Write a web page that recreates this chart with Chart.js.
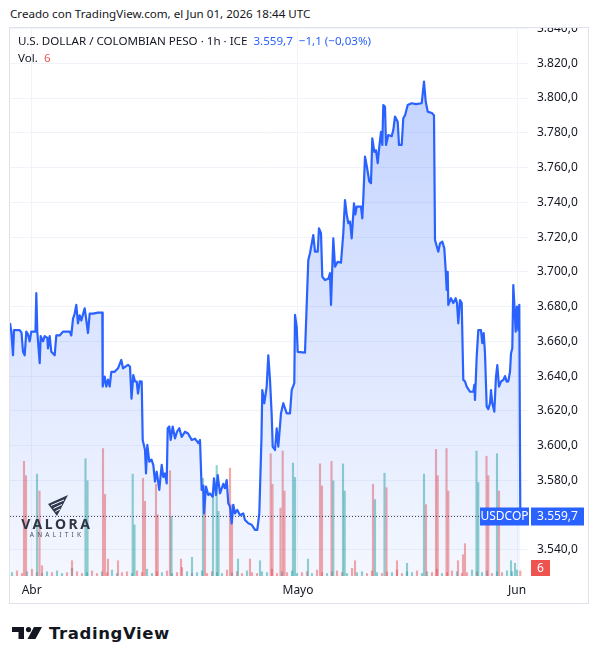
<!DOCTYPE html>
<html>
<head>
<meta charset="utf-8">
<script src="https://cdn.jsdelivr.net/npm/chart.js@4.4.1/dist/chart.umd.min.js"></script>
<style>
  body { margin: 0; background: #fff; width: 598px; height: 664px; position: relative; overflow: hidden;
         font-family: "Noto Sans", Roboto, sans-serif; color: #131722; }
  #created { position: absolute; left: 10px; top: 5px; font-size: 11.6px; line-height: 18px; }
  #pane { position: absolute; left: 10px; top: 28px; width: 578px; height: 575px; }
  #frame { position: absolute; left: 9px; top: 27px; width: 580px; height: 577px; border: 1px solid #e0e3eb;
           box-sizing: border-box; pointer-events: none; }
  #c { position: absolute; left: 0; top: 0; }
  .leg { position: absolute; left: 8px; font-size: 11.6px; line-height: 16px; white-space: nowrap; }
  .blue { color: #2962ff; }
  .red { color: #ef5350; }
  #valora { position: absolute; left: 11px; top: 467px; width: 72px; text-align: center; color: #2f3542; }
  #valora .name { font-weight: 700; font-size: 14px; letter-spacing: 2.6px; line-height: 14px; margin-top: 1px; }
  #valora .sub { font-size: 6.5px; letter-spacing: 3.2px; line-height: 8px; color: #4a4f5a; }
  #tv { position: absolute; left: 12px; top: 622px; height: 22px; display: flex; align-items: center; }
  #tv span { font-family: "DejaVu Sans", sans-serif; font-weight: 700; font-size: 16.5px; letter-spacing: 0.6px;
             margin-left: 7px; color: #131722; }
</style>
</head>
<body>
<div id="created">Creado con TradingView.com, el Jun 01, 2026 18:44 UTC</div>
<div id="pane">
  <canvas id="c" width="578" height="575" style="width:578px;height:575px"></canvas>
  <div class="leg" style="top:5px">U.S. DOLLAR / COLOMBIAN PESO · 1h · ICE&nbsp; <span class="blue">3.559,7</span>&nbsp; <span class="blue">−1,1 (−0,03%)</span></div>
  <div class="leg" style="top:22px">Vol.&nbsp; <span class="red">6</span></div>
  <div id="valora">
    <svg width="20" height="21" viewBox="0 0 20 21" style="display:block;margin:0 auto 1px 27px">
      <polygon points="0,9 20,0 9,21" fill="#2f3a50"/>
      <line x1="3" y1="10.5" x2="16" y2="5" stroke="#fff" stroke-width="1"/>
      <line x1="5.5" y1="13.5" x2="14" y2="9.5" stroke="#fff" stroke-width="1"/>
      <line x1="7.5" y1="16.5" x2="12" y2="14" stroke="#fff" stroke-width="1"/>
    </svg>
    <div class="name">VALORA</div>
    <div class="sub">ANALITIK</div>
  </div>
</div>
<div id="frame"></div>
<div id="tv">
  <svg width="30" height="12" viewBox="0 0 30 12">
    <path d="M0 0 H12 V12 H6.5 V5 H0 Z" fill="#131722"/>
    <circle cx="16.5" cy="2.6" r="2.6" fill="#131722"/>
    <path d="M22 0 H30 L23.5 12 H15.5 Z" fill="#131722"/>
  </svg>
  <span>TradingView</span>
</div>
<script>
// hourly closes, time in bars from left edge of the view
const hours = [
  0, 1.3, 3, 4, 9.7, 11.5, 13, 14.7, 16.3, 18,
  19.7, 21.3, 25.5, 26.3, 27.3, 29.7, 30.7, 33, 34.7, 37.3,
  38, 39.7, 41.3, 44.7, 46.3, 49.7, 53, 59.7, 61.3, 63,
  64.7, 66.3, 68, 69.7, 71.3, 74.7, 76.3, 78, 79.7, 83,
  88, 92.3, 92.7, 94.7, 96.3, 98, 99.7, 101.3, 104.7, 108,
  111.3, 113, 118, 120, 121.5, 123.3, 125, 126.7, 128, 129.7,
  131.7, 132.7, 135, 136, 137.3, 139.3, 141.5, 143.3, 145, 146.7,
  149.3, 151.7, 153.3, 155, 156.7, 157.7, 159.3, 160.7, 162.7, 165,
  167, 169.3, 171.7, 175, 178, 181.7, 185, 188.3, 190, 191.7,
  193.3, 194, 196, 198.3, 200, 202.7, 204, 206, 207.7, 210,
  213.3, 215, 216.7, 218.3, 220, 221.7, 223.3, 225, 227.3, 230,
  233.3, 235, 238.3, 241.7, 245, 247.3, 249.3, 251.5, 252.3, 254.3,
  256.7, 258.3, 260, 261.7, 262.7, 265, 266.7, 268.3, 271, 273.3,
  276.7, 280, 281.7, 284.3, 285, 286.7, 287.7, 295, 298.3, 300,
  303.3, 305, 307.7, 309, 311, 312.3, 315, 318.3, 320, 321,
  323.3, 325, 327.7, 331, 333.3, 335, 336.7, 338.3, 340, 341.7,
  344, 345.3, 346.7, 351, 352.3, 353.3, 355, 357, 359.3, 361,
  362.3, 364.3, 366, 367.7, 369.3, 371, 372.3, 373.3, 375, 376,
  378.3, 381.7, 383.3, 385, 387.7, 389, 391.7, 393.3, 395, 397.7,
  401.7, 406, 411.7, 414, 415.7, 417.7, 422.3, 424, 425, 428.3,
  430, 432.3, 434.3, 435.7, 436.7, 437.7, 438.3, 441, 443.3, 445.7,
  447, 448.3, 450, 451.7, 453.3, 455, 456.7, 460, 463.3, 464.3,
  465, 466.7, 468.3, 471, 472.3, 473.7, 475, 476.7, 478.3, 480,
  481, 482.3, 484.3, 486, 487.3, 489, 491, 493.3, 495, 496.7,
  498.3, 500, 501, 502.3, 503.3, 504.3, 505.7, 507, 508.3, 509.3,
  510.3
];
const closes = [
  3670.6, 3665.6, 3652, 3666.5, 3666.5, 3665, 3654, 3652, 3665.6, 3664,
  3660, 3665.6, 3665.6, 3687.7, 3665.6, 3647.4, 3663, 3660, 3663, 3662,
  3656, 3663, 3654, 3652, 3663.4, 3663.4, 3665.6, 3665.6, 3663.4, 3673,
  3676, 3681, 3670.4, 3675, 3672, 3679, 3672.3, 3664.8, 3676, 3676,
  3676.5, 3676.5, 3634, 3639.7, 3634, 3638, 3634, 3642.5, 3642.5, 3644.5,
  3649.3, 3644.5, 3646.5, 3645.4, 3627, 3640.6, 3637, 3636.8, 3630, 3637,
  3636.8, 3603.3, 3597.5, 3584, 3600.4, 3590.8, 3592, 3588.9, 3579.3, 3585,
  3574.5, 3588.9, 3582, 3584, 3578.3, 3610, 3611, 3603.3, 3611, 3604.2,
  3608, 3610, 3605, 3608, 3607, 3603.3, 3604, 3601.4, 3603.3, 3574.5,
  3577, 3561, 3576.4, 3571.6, 3572.5, 3570.6, 3581.2, 3571.6, 3583, 3572.6,
  3578, 3575.5, 3580.2, 3566.8, 3565, 3555.3, 3566, 3561, 3563, 3560,
  3561, 3557.2, 3555.3, 3554.5, 3551.5, 3551.5, 3561, 3605, 3632, 3624.4,
  3634, 3652, 3637.8, 3617.6, 3599.4, 3597.5, 3610, 3599.4, 3618.6, 3624.4,
  3618.6, 3618.6, 3632, 3636, 3675.2, 3668.5, 3654, 3653.5, 3706.8, 3710.7,
  3721.2, 3711.6, 3711.6, 3725, 3722.2, 3697.2, 3695.3, 3696, 3699.2, 3681,
  3719.3, 3703, 3705.8, 3705.3, 3722.2, 3741.3, 3733, 3728, 3729, 3719.3,
  3739.4, 3733, 3737.5, 3737.5, 3730.8, 3742.3, 3766.3, 3760, 3752, 3751,
  3776.8, 3769, 3770, 3762.5, 3772, 3780.6, 3773, 3796, 3795, 3773,
  3778.7, 3778, 3781.6, 3789.3, 3786.4, 3773, 3773, 3788.4, 3790, 3796,
  3797, 3796.5, 3797, 3809.4, 3798, 3792.2, 3791.2, 3790, 3718.3, 3711.6,
  3716.4, 3717.4, 3713.5, 3701, 3689.6, 3700, 3681, 3684.8, 3682, 3684.8,
  3682, 3670.4, 3683.8, 3682, 3637.8, 3637, 3634, 3631, 3631, 3635,
  3626.3, 3651.2, 3666.5, 3666.5, 3659, 3664.7, 3653, 3622.4, 3621, 3624.4,
  3632, 3624.4, 3619.6, 3639.7, 3646.4, 3634, 3636.8, 3637.8, 3640, 3636.8,
  3637, 3642.5, 3653, 3656, 3692.4, 3682, 3665.6, 3680, 3666.5, 3681,
  3559.7
];

// volume spikes (session opens) and the low background volume
const spikeHours = [14, 16, 27, 29.5, 32, 62, 75.5, 77.5, 93, 95, 98, 108, 122.7, 124.5, 133, 135,
  146, 147.7, 160, 161.5, 171, 182, 193, 195, 203, 206.7, 208.5, 220, 222, 228, 240, 250,
  260.7, 262.5, 270.5, 272.7, 274.5, 283, 285, 298, 310, 312, 321.5, 323.3, 333, 334.7, 345,
  363, 365, 374.5, 376.5, 387, 397, 414, 416, 426, 427.7, 436.5, 438.3, 448, 453, 455,
  466.5, 468.3, 476.5, 478.3, 487, 489, 501, 505, 510.3];
const spikeVol = [135, 118, 120, 100, 12, 18, 138, 112, 150, 96, 20, 18, 120, 60, 115, 88,
  108, 72, 124, 70, 20, 22, 115, 92, 100, 130, 76, 127, 84, 20, 20, 18,
  144, 108, 80, 147, 100, 133, 116, 20, 132, 106, 135, 112, 132, 100, 18,
  108, 90, 121, 104, 18, 15, 120, 84, 149, 118, 150, 100, 18, 25, 38,
  147, 110, 141, 118, 144, 100, 18, 15, 6];
const spikeUp = "dduddduudddduuddddduduuduuuddududdddduuuddduuudduudduudddddddduudduduud";
const baseVol = [
  4, 6, 3, 5, 8, 4, 3, 5, 4, 6,
  3, 4, 9, 5, 3, 4, 6, 3, 5, 4,
  7, 3, 4, 5, 3, 6, 4, 8, 3, 5,
  4, 6, 3, 4, 10, 5, 3, 4, 6, 3,
  5, 4, 3, 7, 4, 5, 3, 6, 4, 3,
  5, 4, 8, 3, 5, 4, 6, 3, 4, 5,
  3, 7, 4, 3, 5, 6, 4, 3, 9, 4,
  5, 3, 6, 4, 3, 5, 4, 7, 3, 5,
  4, 6, 3, 5, 4, 8, 3, 4, 6, 5,
  3, 4, 7, 5, 4, 6, 3, 5, 4, 6,
  5, 7];
const baseUp = "uddudduuduududdudduduuddudduudududduduudduududdudduudduduuddudduudduduudduddudduuduudduddudduduudud";

const priceTicks = [3540, 3560, 3580, 3600, 3620, 3640, 3660, 3680, 3700, 3720, 3740, 3760, 3780, 3800, 3820, 3840];
const monthTicks = [21.7, 288, 507];
const monthLabels = ["Abr", "Mayo", "Jun"];

const TEAL = "rgba(38,166,154,0.5)";
const RED = "rgba(239,83,80,0.5)";
const FONT = "'Noto Sans', Roboto, sans-serif";

// 3559.7 -> "3.559,7"
function fmtPrice(v) {
  var parts = v.toFixed(1).split(".");
  var n = parts[0];
  return n.slice(0, -3) + "." + n.slice(-3) + "," + parts[1];
}

var linePts = hours.map(function (h, i) { return { x: h, y: closes[i] }; });
var spikePts = spikeHours.map(function (h, i) { return { x: h, y: spikeVol[i] }; });
var spikeCol = spikeHours.map(function (h, i) { return spikeUp[i] === "u" ? TEAL : RED; });
var basePts = baseVol.map(function (v, i) { return { x: 2 + i * 5, y: v }; });
var baseCol = baseVol.map(function (v, i) { return baseUp[i] === "d" ? RED : TEAL; });

var lastPrice = {
  id: "lastPrice",
  afterDatasetsDraw: function (chart) {
    var ctx = chart.ctx, a = chart.chartArea, s = chart.scales;
    var last = closes[closes.length - 1];
    var lastVol = spikeVol[spikeVol.length - 1];
    var y = Math.round(s.y.getPixelForValue(last)) + 0.5;
    ctx.save();
    ctx.strokeStyle = "#434651";
    ctx.lineWidth = 1;
    ctx.setLineDash([1, 2]);
    ctx.beginPath();
    ctx.moveTo(a.left, y);
    ctx.lineTo(a.right, y);
    ctx.stroke();
    ctx.setLineDash([]);

    ctx.fillStyle = "#2962ff";
    ctx.fillRect(a.right - 49, y - 9, 49, 18);
    ctx.fillRect(a.right + 2, y - 9, 53, 18);
    ctx.fillStyle = "#fff";
    ctx.font = "12px " + FONT;
    ctx.textBaseline = "middle";
    ctx.textAlign = "center";
    ctx.fillText("USDCOP", a.right - 24.5, y + 0.5);
    ctx.fillText(fmtPrice(last), a.right + 28.5, y + 0.5);

    var vy = Math.min(s.v.getPixelForValue(lastVol), a.bottom - 8);
    ctx.fillStyle = "#ef5350";
    ctx.fillRect(a.right + 2, vy - 8, 19, 16);
    ctx.fillStyle = "#fff";
    ctx.fillText(String(lastVol), a.right + 11.5, vy + 0.5);
    ctx.restore();
  }
};

new Chart(document.getElementById("c"), {
  type: "line",
  data: {
    datasets: [
      {
        data: linePts,
        borderColor: "#2962ff",
        borderWidth: 2.2,
        pointRadius: 0,
        tension: 0,
        borderJoinStyle: "round",
        fill: "start",
        backgroundColor: function (context) {
          var chart = context.chart;
          if (!chart.chartArea) return "rgba(41,98,255,0.15)";
          var top = chart.scales.y.getPixelForValue(Math.max.apply(null, closes));
          var g = chart.ctx.createLinearGradient(0, top, 0, chart.chartArea.bottom);
          g.addColorStop(0, "rgba(41,98,255,0.28)");
          g.addColorStop(1, "rgba(41,98,255,0.05)");
          return g;
        },
        yAxisID: "y",
        order: 0
      },
      {
        type: "bar",
        data: spikePts,
        backgroundColor: spikeCol,
        barThickness: 1.5,
        grouped: false,
        borderWidth: 0,
        yAxisID: "v",
        order: 1
      },
      {
        type: "bar",
        data: basePts,
        backgroundColor: baseCol,
        barThickness: 1.5,
        grouped: false,
        borderWidth: 0,
        yAxisID: "v",
        order: 2
      }
    ]
  },
  options: {
    animation: false,
    responsive: false,
    layout: { padding: 0 },
    plugins: { legend: { display: false }, tooltip: { enabled: false } },
    scales: {
      x: {
        type: "linear",
        min: 0,
        max: 519,
        bounds: "data",
        offset: false,
        afterBuildTicks: function (scale) {
          scale.ticks = monthTicks.map(function (v) { return { value: v }; });
        },
        afterFit: function (scale) {
          scale.height = 27;
          scale.paddingLeft = 0;
          scale.paddingRight = 0;
        },
        ticks: {
          autoSkip: false,
          maxRotation: 0,
          padding: 7,
          color: "#131722",
          font: { size: 12, family: FONT },
          callback: function (v, i) { return monthLabels[i]; }
        },
        grid: { color: "#f0f3fa", drawTicks: false, offset: false },
        border: { display: false }
      },
      y: {
        position: "right",
        min: 3525,
        max: 3840.3,
        bounds: "data",
        afterBuildTicks: function (scale) {
          scale.ticks = priceTicks.map(function (v) { return { value: v }; });
        },
        afterFit: function (scale) {
          scale.width = 59;
          scale.paddingTop = 0;
          scale.paddingBottom = 0;
        },
        ticks: {
          autoSkip: false,
          padding: 8,
          color: "#131722",
          font: { size: 12, family: FONT },
          callback: function (v) { return fmtPrice(v); }
        },
        grid: { color: "#f0f3fa", drawTicks: false },
        border: { display: false }
      },
      v: { display: false, min: 0, max: 645 }
    }
  },
  plugins: [lastPrice]
});
</script>
</body>
</html>
